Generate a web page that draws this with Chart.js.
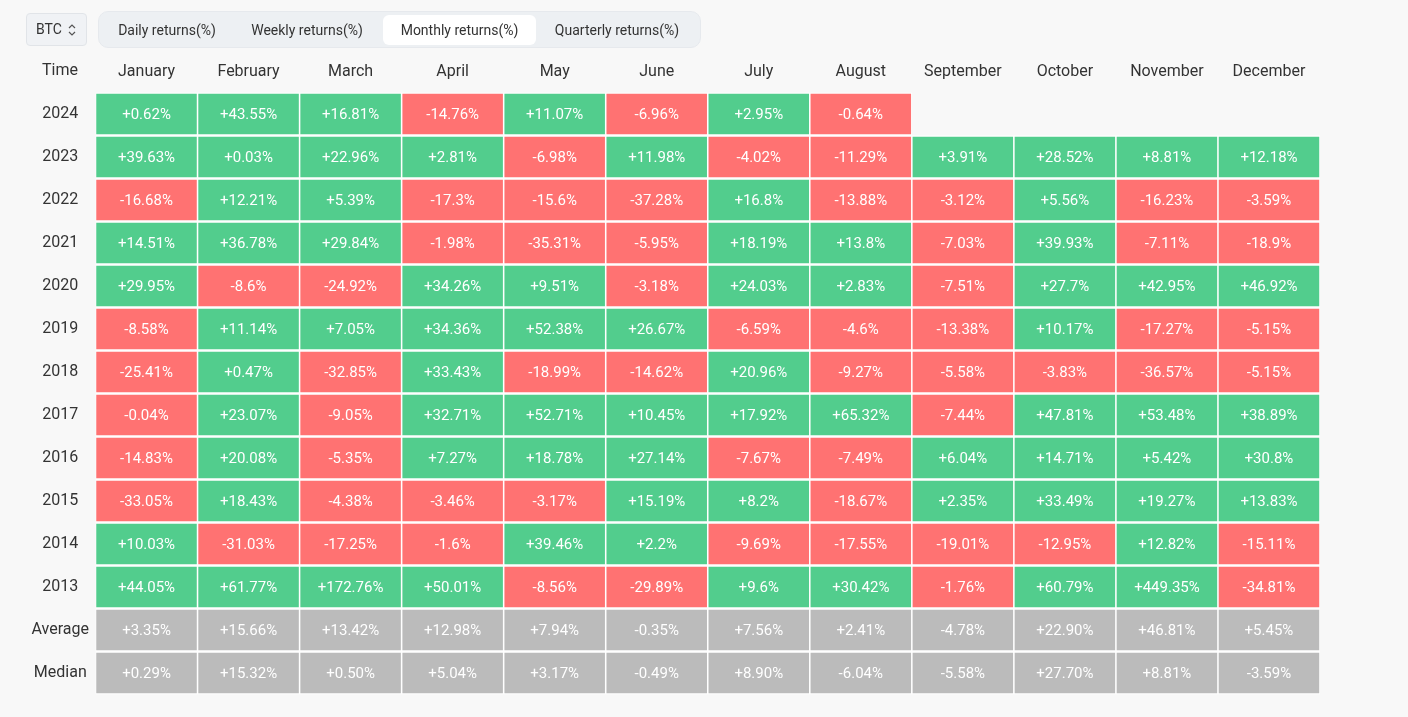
<!DOCTYPE html>
<html>
<head>
<meta charset="utf-8">
<script src="https://cdn.jsdelivr.net/npm/chart.js@4"></script>
<style>
  html, body { margin: 0; padding: 0; background: #f8f8f8; font-family: Roboto, sans-serif; }
  #wrap { position: relative; width: 1408px; height: 717px; overflow: hidden; }
  #c { position: absolute; left: 0; top: 0; }
  .sel { position: absolute; left: 26px; top: 13px; width: 59px; height: 31px; border: 1px solid #e1e4e8; background: #f0f2f5; border-radius: 4px; font-size: 14px; color: #333; line-height: 31px; box-sizing: content-box; }
  .sel span { position: absolute; left: 9px; }
  .sel svg { position: absolute; left: 40px; top: 9px; }
  .tabs { position: absolute; left: 98px; top: 11px; width: 603px; height: 37px; background: #edf0f3; border-radius: 10px; border: 1px solid #e6e9ed; box-sizing: border-box; }
  .tab { position: absolute; top: 3px; height: 30px; line-height: 30px; font-size: 14px; color: #333; text-align: center; border-radius: 6px; }
  .tab.active { background: #ffffff; }
  .time { position: absolute; left: 24px; width: 72px; top: 58px; text-align: center; font-size: 16px; color: #333; line-height: 24px; }
</style>
</head>
<body>
<div id="wrap">
  <canvas id="c" width="1408" height="717"></canvas>
  <div class="sel"><span>BTC</span>
    <svg width="10" height="14" viewBox="0 0 10 14"><path d="M2 5 L5 2 L8 5 M2 9 L5 12 L8 9" stroke="#555" stroke-width="1.2" fill="none"/></svg>
  </div>
  <div class="tabs">
    <div class="tab" style="left:4px;width:128px;">Daily returns(%)</div>
    <div class="tab" style="left:132px;width:152px;">Weekly returns(%)</div>
    <div class="tab active" style="left:284px;width:153px;">Monthly returns(%)</div>
    <div class="tab" style="left:437px;width:162px;">Quarterly returns(%)</div>
  </div>
  <div class="time">Time</div>
</div>
<script>
const months = ['January','February','March','April','May','June','July','August','September','October','November','December'];
const rowLabels = ['2024','2023','2022','2021','2020','2019','2018','2017','2016','2015','2014','2013','Average','Median'];

const r2024 = [0.62, 43.55, 16.81, -14.76, 11.07, -6.96, 2.95, -0.64, null, null, null, null];
const r2023 = [39.63, 0.03, 22.96, 2.81, -6.98, 11.98, -4.02, -11.29, 3.91, 28.52, 8.81, 12.18];
const r2022 = [-16.68, 12.21, 5.39, -17.3, -15.6, -37.28, 16.8, -13.88, -3.12, 5.56, -16.23, -3.59];
const r2021 = [14.51, 36.78, 29.84, -1.98, -35.31, -5.95, 18.19, 13.8, -7.03, 39.93, -7.11, -18.9];
const r2020 = [29.95, -8.6, -24.92, 34.26, 9.51, -3.18, 24.03, 2.83, -7.51, 27.7, 42.95, 46.92];
const r2019 = [-8.58, 11.14, 7.05, 34.36, 52.38, 26.67, -6.59, -4.6, -13.38, 10.17, -17.27, -5.15];
const r2018 = [-25.41, 0.47, -32.85, 33.43, -18.99, -14.62, 20.96, -9.27, -5.58, -3.83, -36.57, -5.15];
const r2017 = [-0.04, 23.07, -9.05, 32.71, 52.71, 10.45, 17.92, 65.32, -7.44, 47.81, 53.48, 38.89];
const r2016 = [-14.83, 20.08, -5.35, 7.27, 18.78, 27.14, -7.67, -7.49, 6.04, 14.71, 5.42, 30.8];
const r2015 = [-33.05, 18.43, -4.38, -3.46, -3.17, 15.19, 8.2, -18.67, 2.35, 33.49, 19.27, 13.83];
const r2014 = [10.03, -31.03, -17.25, -1.6, 39.46, 2.2, -9.69, -17.55, -19.01, -12.95, 12.82, -15.11];
const r2013 = [44.05, 61.77, 172.76, 50.01, -8.56, -29.89, 9.6, 30.42, -1.76, 60.79, 449.35, -34.81];
const average = [3.35, 15.66, 13.42, 12.98, 7.94, -0.35, 7.56, 2.41, -4.78, 22.90, 46.81, 5.45];
const median = [0.29, 15.32, 0.50, 5.04, 3.17, -0.49, 8.90, -6.04, -5.58, 27.70, 8.81, -3.59];

const rows = [r2024, r2023, r2022, r2021, r2020, r2019, r2018, r2017, r2016, r2015, r2014, r2013, average, median];
const summaryRows = 2;

const GREEN = '#52cd8d';
const RED = '#ff7272';
const GRAY = '#bbbbbb';

function fmt(v, summary) {
  const s = summary ? Math.abs(v).toFixed(2) : String(Math.abs(v));
  return (v >= 0 ? '+' : '-') + s + '%';
}

const datasets = rows.map((vals, r) => {
  const summary = r >= rows.length - summaryRows;
  return {
    label: rowLabels[r],
    data: vals.map(v => v === null ? null : [r, r + 1]),
    raw: vals,
    summary: summary,
    backgroundColor: vals.map(v => summary ? GRAY : (v >= 0 ? GREEN : RED)),
    borderColor: '#ffffff',
    borderWidth: { top: 1.65, bottom: 1.65, left: 1.1, right: 1.1 },
    borderSkipped: false,
    grouped: false,
    categoryPercentage: 1,
    barPercentage: 1
  };
});

const cellLabels = {
  id: 'cellLabels',
  afterDatasetsDraw(chart) {
    const ctx = chart.ctx;
    ctx.save();
    ctx.fillStyle = '#ffffff';
    ctx.font = '15px Roboto';
    ctx.textAlign = 'center';
    ctx.textBaseline = 'middle';
    chart.data.datasets.forEach((ds, i) => {
      const meta = chart.getDatasetMeta(i);
      meta.data.forEach((el, j) => {
        const v = ds.raw[j];
        if (v === null || v === undefined) return;
        const y = (el.y + el.base) / 2;
        ctx.fillText(fmt(v, ds.summary), el.x, y + 1);
      });
    });
    ctx.restore();
  }
};

new Chart(document.getElementById('c'), {
  type: 'bar',
  data: { labels: months, datasets: datasets },
  plugins: [cellLabels],
  options: {
    responsive: false,
    animation: false,
    events: [],
    layout: { padding: { top: 52.5, bottom: 22.5, left: 24, right: 88 } },
    plugins: { legend: { display: false }, tooltip: { enabled: false } },
    scales: {
      x: {
        position: 'top',
        grid: { display: false },
        border: { display: false },
        ticks: { color: '#333333', font: { size: 16, family: 'Roboto' }, padding: 3, maxRotation: 0 },
        afterFit(scale) { scale.height = 40; }
      },
      y: {
        min: 0, max: rows.length, reverse: true,
        grid: { display: false },
        border: { display: false },
        afterBuildTicks(scale) { scale.ticks = rowLabels.map((_, i) => ({ value: i + 0.5 })); },
        ticks: {
          color: '#333333', font: { size: 16, family: 'Roboto' }, crossAlign: 'center', padding: -1.5,
          callback: (value, index) => rowLabels[index]
        },
        afterFit(scale) { scale.width = 71.5; }
      }
    }
  }
});
</script>
</body>
</html>
